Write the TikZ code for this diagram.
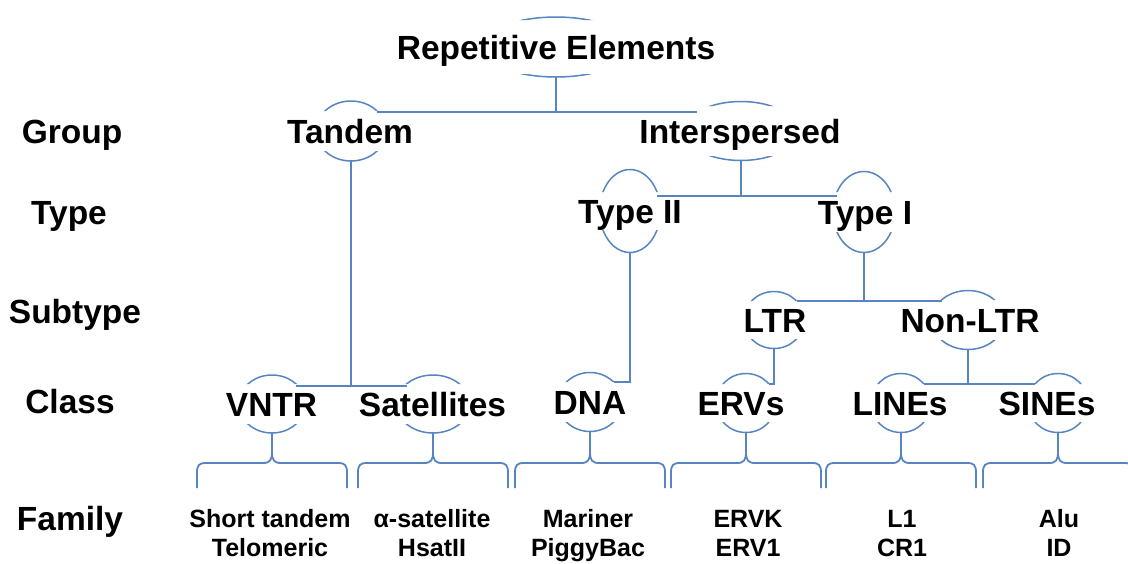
\documentclass[tikz,border=0pt]{standalone}
\usepackage{fontspec}
\setmainfont{Liberation Sans}
\usetikzlibrary{shapes.geometric}
\definecolor{lc}{HTML}{5685C2}
\tikzset{
  conn/.style={draw=lc, line width=1.8pt},
  arcst/.style={draw=lc, line width=1.5pt},
  lab/.style={font=\fontsize{33.5}{36}\selectfont\bfseries, inner sep=0pt, anchor=base, text=black},
  famtext/.style={font=\fontsize{25}{28}\selectfont\bfseries, inner sep=0pt, anchor=base, text=black},
}
% name, cx, cy, half-width at cut, cut half-height, half-height, text x, text
\newcommand{\enode}[8]{%
  \pgfmathsetmacro{\myrx}{#4/sqrt(1-(#5/#6)^2)}%
  \begin{scope}
    \clip (#2-200,#3-#5) rectangle (#2+200,#3-#6-10) (#2-200,#3+#5) rectangle (#2+200,#3+#6+10);
    \node[arcst, ellipse, minimum width=2*\myrx, minimum height=2*#6, inner sep=0pt, outer sep=0pt] (#1-e) at (#2,#3) {};
  \end{scope}
  \coordinate (#1-tl) at (#2-#4,#3-#5);
  \coordinate (#1-tr) at (#2+#4,#3-#5);
  \coordinate (#1-bl) at (#2-#4,#3+#5);
  \coordinate (#1-br) at (#2+#4,#3+#5);
  \node[lab] (#1) at (#7,#3+12) {#8};
}
% node name, centre x
\newcommand{\famBrace}[2]{%
  \draw[conn, line join=round] (#1-e.south) -- (#2,452) .. controls (#2,460) and (#2-2,463) .. (#2-9,463) -- (#2-66,463) .. controls (#2-73,463) and (#2-75,465) .. (#2-75,473) -- (#2-75,488);
  \draw[conn] (#2,452) .. controls (#2,460) and (#2+2,463) .. (#2+9,463) -- (#2+66,463) .. controls (#2+73,463) and (#2+75,465) .. (#2+75,473) -- (#2+75,488);
}
\begin{document}
\begin{tikzpicture}[x=1pt,y=-1pt]
\clip (0,0) rectangle (1128,563);
\fill[white] (0,0) rectangle (1128,563);

% row labels
\node[lab] (rgroup) at (72,143) {Group};
\node[lab] (rtype) at (69,224) {Type};
\node[lab] (rsub) at (75,323) {Subtype};
\node[lab] (rclass) at (70,413) {Class};
\node[lab] (rfam) at (70,530) {Family};

% tree nodes
\enode{rep}{556}{47}{32.5}{27}{30}{556}{Repetitive Elements}
\enode{tandem}{351}{131}{26}{20}{30}{350}{Tandem}
\enode{inter}{741}{131}{30}{25}{29.5}{740}{Interspersed}
\enode{typeii}{630}{211}{27}{19}{41.5}{630}{Type II}
\enode{typei}{864}{212}{27}{20}{40.5}{865}{Type I}
\enode{ltr}{774}{320}{22.5}{19}{28.5}{775}{LTR}
\enode{nonltr}{968}{320}{26.5}{20}{29.5}{970}{Non-LTR}
\enode{vntr}{272}{404}{24}{20}{29}{271.5}{VNTR}
\enode{sat}{433}{404}{26.5}{20}{29}{432.5}{Satellites}
\enode{dna}{590}{402}{23.5}{20}{29.5}{590}{DNA}
\enode{ervs}{746}{403}{23}{19}{29.5}{741}{ERVs}
\enode{lines}{901}{403}{23}{19}{29.5}{900}{LINEs}
\enode{sines}{1058}{403}{23}{19}{29.5}{1047}{SINEs}

% connectors
\coordinate (j1) at (556,112);
\coordinate (j1r) at (697,112);
\draw[conn] (rep-e.south) -- (j1);
\draw[conn] (tandem-tr |- j1) -- (j1r);

\coordinate (j2) at (741,196);
\draw[conn] (inter-e.south) -- (j2);
\draw[conn] (typeii-tr |- j2) -- (typei-tl |- j2);

\draw[conn] (typeii-e.south) |- (dna-tr);

\coordinate (j3) at (864,301);
\draw[conn] (typei-e.south) -- (j3);
\draw[conn] (ltr-tr |- j3) -- (nonltr-tl |- j3);

\draw[conn] (ltr-e.south) |- (ervs-tr);

\coordinate (j4) at (968,384);
\draw[conn] (nonltr-e.south) -- (j4);
\draw[conn] (lines-tr |- j4) -- (sines-tl |- j4);

\coordinate (j5) at (351,386);
\draw[conn] (tandem-e.south) -- (j5);
\draw[conn] (vntr-tr |- j5) -- (sat-tl |- j5);

% braces
\famBrace{vntr}{272}
\famBrace{sat}{433}
\famBrace{dna}{590}
\famBrace{ervs}{746}
\famBrace{lines}{901}
\famBrace{sines}{1058}

% family texts
\node[famtext] (f1a) at (270,527) {Short tandem};
\node[famtext] (f1b) at (270,556) {Telomeric};
\node[famtext] (f2a) at (432,527) {α-satellite};
\node[famtext] (f2b) at (432,556) {HsatII};
\node[famtext] (f3a) at (588,527) {Mariner};
\node[famtext] (f3b) at (588,556) {PiggyBac};
\node[famtext] (f4a) at (748,527) {ERVK};
\node[famtext] (f4b) at (748,556) {ERV1};
\node[famtext] (f5a) at (902,527) {L1};
\node[famtext] (f5b) at (902,556) {CR1};
\node[famtext] (f6a) at (1059,527) {Alu};
\node[famtext] (f6b) at (1059,556) {ID};
\end{tikzpicture}
\end{document}
